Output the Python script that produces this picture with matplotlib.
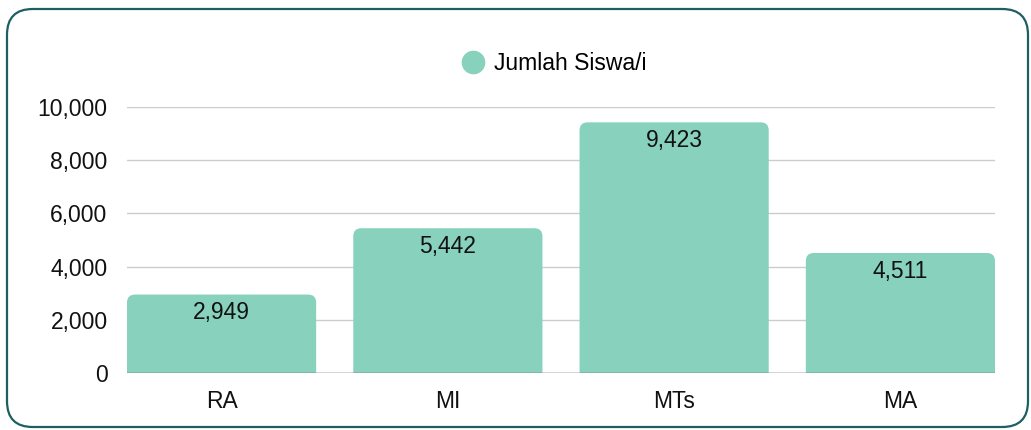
import matplotlib.pyplot as plt
from matplotlib.patches import FancyBboxPatch
from matplotlib.lines import Line2D
from matplotlib.ticker import FuncFormatter
import numpy as np

plt.rcParams['font.family'] = ['Liberation Sans', 'DejaVu Sans']

categories = ['RA', 'MI', 'MTs', 'MA']
jumlah = [2949, 5442, 9423, 4511]
series_name = 'Jumlah Siswa/i'
bar_color = '#87d1bd'
fs = 16.5

fig = plt.figure(figsize=(10.31, 4.30), dpi=100)

# rounded frame around the whole card
frame = FancyBboxPatch((7 / 1031, 3 / 430), 1021 / 1031, 418 / 430,
                       boxstyle='round,pad=0,rounding_size=0.025',
                       mutation_aspect=1031 / 430,
                       transform=fig.transFigure, facecolor='none',
                       edgecolor='#1d5f63', linewidth=1.6, zorder=5)
fig.patches.append(frame)

ax = fig.add_axes([127 / 1031, 57 / 430, 868 / 1031, 266 / 430])
ax.set_facecolor('none')

x = np.arange(len(categories))
w = 0.836
bars = ax.bar(x, jumlah, width=w, color=bar_color, zorder=2)

# swap plain bars for ones with rounded top corners
px_x = 1 / 226.0
px_y = 10000 / 266.0
r = 8 * px_x
for b in bars:
    bx, by = b.get_x(), b.get_y()
    bw, bh = b.get_width(), b.get_height()
    b.set_visible(False)
    p = FancyBboxPatch((bx, by - 20 * px_y), bw, bh + 20 * px_y,
                       boxstyle=f'round,pad=0,rounding_size={r}',
                       mutation_aspect=px_y / px_x,
                       facecolor=bar_color, edgecolor='none', zorder=2)
    p.set_clip_path(ax.patch)
    ax.add_patch(p)

for xi, v in zip(x, jumlah):
    ax.text(xi, v - 18 * px_y, f'{v:,}', ha='center', va='center',
            fontsize=fs, color='#111111', zorder=3)

ax.set_xlim(-w / 2, len(categories) - 1 + w / 2)
ax.set_ylim(0, 10000)
ax.set_yticks(np.arange(0, 10001, 2000))
ax.yaxis.set_major_formatter(FuncFormatter(lambda v, _: f'{int(v):,}'))
ax.set_xticks(x)
ax.set_xticklabels(categories)
ax.tick_params(axis='both', length=0, labelsize=fs, colors='#111111')
ax.tick_params(axis='y', pad=14)
ax.tick_params(axis='x', pad=12)
ax.grid(axis='y', color='#cccccc', linewidth=1, zorder=1)
ax.set_axisbelow(True)
for s in ax.spines.values():
    s.set_visible(False)
ax.axhline(0, color='#555555', linewidth=1, zorder=3)

handle = Line2D([], [], marker='o', linestyle='none', markersize=16,
                markerfacecolor=bar_color, markeredgecolor=bar_color)
fig.legend([handle], [series_name], loc='center', bbox_to_anchor=(553 / 1031, 1 - 64 / 430),
           frameon=False, fontsize=fs, handletextpad=0.3, handlelength=1.2)

fig.savefig('out.png', dpi=100)
